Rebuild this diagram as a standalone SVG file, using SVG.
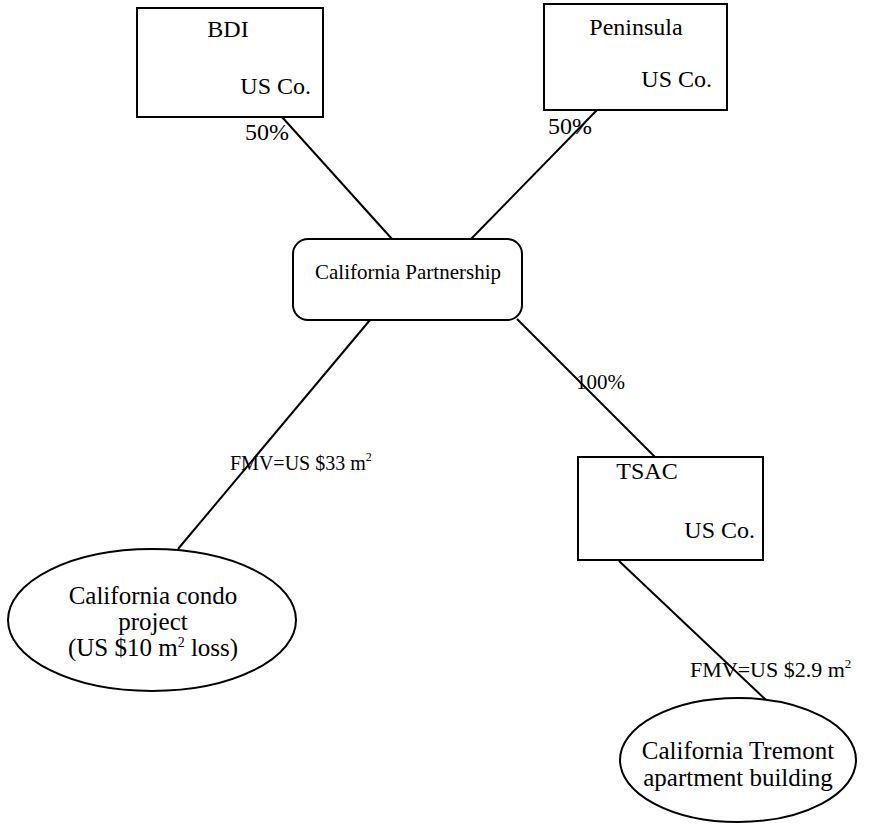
<svg xmlns="http://www.w3.org/2000/svg" width="889" height="831" viewBox="0 0 889 831">
<style>
.shape{fill:#fff;stroke:#000;stroke-width:2}
.t{font-family:"Liberation Serif","Times New Roman",serif;font-size:20px;fill:#000}
.b{font-size:24px}
.el{font-size:25px}
.m{font-size:21px}
.l{font-size:22px}
.c{text-anchor:middle}
.e{text-anchor:end}
.conn line{stroke:#000;stroke-width:2}
</style>
<rect width="889" height="831" fill="#fff"/>
<g class="conn" id="connectors">
<line x1="282" y1="117" x2="392" y2="239"/>
<line x1="597" y1="110" x2="471" y2="239"/>
<line x1="370" y1="320" x2="178" y2="549"/>
<line x1="517" y1="319" x2="655" y2="457"/>
<line x1="619" y1="561" x2="766" y2="700"/>
</g>
<g id="labels">
<text class="t b" x="245" y="140">50%</text>
<text class="t b" x="548" y="134">50%</text>
<text class="t m" x="576" y="389">100%</text>
<text class="t" x="230" y="470">FMV=US $33 m<tspan dy="-9" style="font-size:12px">2</tspan></text>
<text class="t l" x="690" y="677">FMV=US $2.9 m<tspan dy="-9" style="font-size:13px">2</tspan></text>
</g>
<g id="bdi">
<rect class="shape" x="137" y="8" width="186" height="109"/>
<text class="t b c" x="228" y="37">BDI</text>
<text class="t b e" x="311" y="94">US Co.</text>
</g>
<g id="peninsula">
<rect class="shape" x="544" y="4" width="183" height="106"/>
<text class="t b c" x="636" y="35">Peninsula</text>
<text class="t b e" x="712" y="87">US Co.</text>
</g>
<g id="partnership">
<rect class="shape" x="293" y="239" width="229" height="81" rx="15"/>
<text class="t m c" x="408" y="279">California Partnership</text>
</g>
<g id="tsac">
<rect class="shape" x="578" y="457" width="185" height="103"/>
<text class="t b c" x="647" y="479">TSAC</text>
<text class="t b e" x="755" y="538">US Co.</text>
</g>
<g id="condo">
<ellipse class="shape" cx="152" cy="620" rx="144" ry="71"/>
<text class="t el c" x="153" y="604">California condo</text>
<text class="t el c" x="153" y="630">project</text>
<text class="t el c" x="153" y="656">(US $10 m<tspan dy="-9" style="font-size:14px">2</tspan><tspan dy="9"> loss)</tspan></text>
</g>
<g id="tremont">
<ellipse class="shape" cx="738" cy="760" rx="118" ry="62"/>
<text class="t el c" x="738" y="759">California Tremont</text>
<text class="t el c" x="738" y="786">apartment building</text>
</g>
</svg>
